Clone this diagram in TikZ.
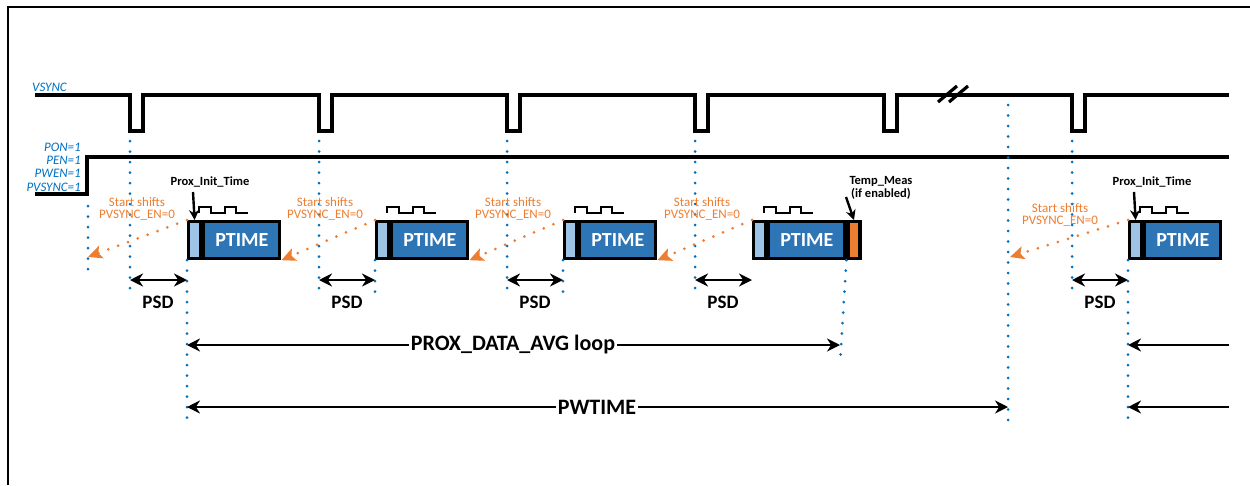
\documentclass[tikz,border=0pt]{standalone}
\usepackage{fontspec}
\setmainfont{Carlito}
\usetikzlibrary{arrows.meta}

\definecolor{ptimeblue}{HTML}{2E75B6}
\definecolor{initblue}{HTML}{9DC3E6}
\definecolor{shiftorange}{HTML}{ED7D31}
\definecolor{sigblue}{HTML}{0070C0}

\tikzset{
  sig/.style={line width=3.2pt},
  wave/.style={line width=2.4pt},
  ptimebox/.style={draw, line width=3.2pt, fill=ptimeblue, text=white,
    font=\bfseries\fontsize{20}{20}\selectfont, minimum width=76pt,
    minimum height=37pt, inner sep=0pt},
  initbox/.style={draw, line width=3.2pt, fill=initblue, minimum width=12pt,
    minimum height=37pt, inner sep=0pt},
  tempbox/.style={initbox, fill=shiftorange},
  guide/.style={sigblue, line width=3pt, line cap=round,
    dash pattern=on 0pt off 10.5pt},
  shiftline/.style={shiftorange, line width=3pt, line cap=round,
    dash pattern=on 0pt off 10.5pt,
    arrows={-Stealth[length=14pt,width=13pt,inset=3pt]}},
  shiftnote/.style={shiftorange, align=center, inner sep=0pt,
    font=\fontsize{13}{12.5}\selectfont},
  note/.style={align=center, inner sep=0pt,
    font=\bfseries\fontsize{12.5}{12.5}\selectfont},
  downarrow/.style={line width=2.4pt, arrows={-Stealth[length=10pt,width=10pt]}},
  dim/.style={line width=2.7pt,
    arrows={Stealth[length=13pt,width=13pt]-Stealth[length=13pt,width=13pt]}},
  dimleft/.style={line width=2.7pt, arrows={-Stealth[length=13pt,width=13pt]}},
  dimlabel/.style={inner sep=0pt, font=\bfseries\fontsize{19}{19}\selectfont},
  looplabel/.style={fill=white, inner sep=2pt,
    font=\bfseries\fontsize{22}{22}\selectfont},
  siglabel/.style={sigblue, align=right, inner sep=0pt,
    font=\itshape\fontsize{13}{13.3}\selectfont}
}

\begin{document}
\begin{tikzpicture}[x=1pt,y=-1pt]

\useasboundingbox (0,0) rectangle (1250,485);

% frame
\draw[line width=2.6pt] (8,485) -- (8,7) -- (1250,7);

% signals
\node[siglabel, anchor=west] (vsync) at (32,87) {VSYNC};

\node[siglabel, anchor=east] (enables) at (81,167) {PON=1\\PEN=1\\PWEN=1\\PVSYNC=1};

\draw[sig] (35,95) -- (130,95) -- ++(0,36) -- ++(13,0) -- ++(0,-36)
  -- (319,95) -- ++(0,36) -- ++(13,0) -- ++(0,-36)
  -- (507,95) -- ++(0,36) -- ++(13,0) -- ++(0,-36)
  -- (695,95) -- ++(0,36) -- ++(13,0) -- ++(0,-36)
  -- (884,95) -- ++(0,36) -- ++(13,0) -- ++(0,-36)
  -- (1072,95) -- ++(0,36) -- ++(13,0) -- ++(0,-36)
  -- (1229,95);
\draw[sig] (938,102) -- (957,86);
\draw[sig] (949,102) -- (968,86);

\draw[sig] (35,194) -- (87,194) -- (87,157) -- (1229,157);

% PTIME boxes
\node[initbox, anchor=north west] (s1) at (187,220) {};
\node[ptimebox, anchor=north west] (p1) at (s1.north east) {PTIME};

\node[initbox, anchor=north west] (s2) at (375,220) {};
\node[ptimebox, anchor=north west] (p2) at (s2.north east) {PTIME};

\node[initbox, anchor=north west] (s3) at (563,220) {};
\node[ptimebox, anchor=north west] (p3) at (s3.north east) {PTIME};

\node[initbox, anchor=north west] (s4) at (752,220) {};
\node[ptimebox, anchor=north west] (p4) at (s4.north east) {PTIME};
\node[tempbox, anchor=north west] (t4) at (p4.north east) {};

\node[initbox, anchor=north west] (s5) at (1128,220) {};
\node[ptimebox, anchor=north west] (p5) at (s5.north east) {PTIME};

\draw[wave] (199,213) -- ++(0,-6) -- ++(12,0) -- ++(0,6) -- ++(14,0) -- ++(0,-6) -- ++(11,0) -- ++(0,6) -- ++(12,0);
\draw[wave] (387,213) -- ++(0,-6) -- ++(12,0) -- ++(0,6) -- ++(14,0) -- ++(0,-6) -- ++(11,0) -- ++(0,6) -- ++(12,0);
\draw[wave] (575,213) -- ++(0,-6) -- ++(12,0) -- ++(0,6) -- ++(14,0) -- ++(0,-6) -- ++(11,0) -- ++(0,6) -- ++(12,0);
\draw[wave] (764,213) -- ++(0,-6) -- ++(12,0) -- ++(0,6) -- ++(14,0) -- ++(0,-6) -- ++(11,0) -- ++(0,6) -- ++(12,0);
\draw[wave] (1140,213) -- ++(0,-6) -- ++(12,0) -- ++(0,6) -- ++(14,0) -- ++(0,-6) -- ++(11,0) -- ++(0,6) -- ++(12,0);

% markers
\node[note] (init1) at (210,182) {Prox\_Init\_Time};
\node[note] (init5) at (1152,182) {Prox\_Init\_Time};
\node[note] (temp) at (881,188) {Temp\_Meas\\(if enabled)};

\draw[downarrow] (193,192) -- (s1.north);
\draw[downarrow] (1134,192) -- (s5.north);
\draw[downarrow] (846,197) -- (t4.north);

% guide lines
\draw[guide] (88,206) -- (88,270);
\draw[guide] (130,141) -- (130,290);
\draw[guide] (319,141) -- (319,290);
\draw[guide] (507,141) -- (507,290);
\draw[guide] (695,141) -- (695,290);
\draw[guide] (1072,141) -- (1072,290);
\draw[guide] (1008,105) -- (1008,424);
\draw[guide] (s1.south west) -- (187,420);
\draw[guide] (s2.south west) -- (375,296);
\draw[guide] (s3.south west) -- (563,296);
\draw[guide] (p4.south east) -- (840,364);
\draw[guide] (s5.south west) -- (1128,420);

% start shifts
\node[shiftnote] (shift1) at (137,209) {Start shifts\\PVSYNC\_EN=0};
\node[shiftnote] (shift2) at (325,209) {Start shifts\\PVSYNC\_EN=0};
\node[shiftnote] (shift3) at (513,209) {Start shifts\\PVSYNC\_EN=0};
\node[shiftnote] (shift4) at (702,209) {Start shifts\\PVSYNC\_EN=0};
\node[shiftnote] (shift5) at (1060,215) {Start shifts\\PVSYNC\_EN=0};

\coordinate (tip0) at (88,257);
\coordinate (tip5) at (1010,257);

\draw[shiftline] (s1.north west) -- (tip0);
\draw[shiftline] (s2.north west) -- (p1.south east);
\draw[shiftline] (s3.north west) -- (p2.south east);
\draw[shiftline] (s4.north west) -- (p3.south east);
\draw[shiftline] (s5.north west) -- (tip5);

% PSD
\draw[dim] (130,280) -- (187,280);
\draw[dim] (319,280) -- (375,280);
\draw[dim] (507,280) -- (563,280);
\draw[dim] (695,280) -- (752,280);
\draw[dim] (1072,280) -- (1128,280);

\node[dimlabel] (psd1) at (158,302) {PSD};
\node[dimlabel] (psd2) at (347,302) {PSD};
\node[dimlabel] (psd3) at (535,302) {PSD};
\node[dimlabel] (psd4) at (723,302) {PSD};
\node[dimlabel] (psd5) at (1100,302) {PSD};

% loop and PWTIME
\draw[dim] (187,345) -- (840,345);
\node[looplabel] (loop) at (513,345) {PROX\_DATA\_AVG loop};

\draw[dim] (187,407) -- (1008,407);
\node[looplabel] (pwtime) at (597,407) {PWTIME};

\draw[dimleft] (1229,345) -- (1128,345);
\draw[dimleft] (1229,407) -- (1128,407);

\end{tikzpicture}
\end{document}
